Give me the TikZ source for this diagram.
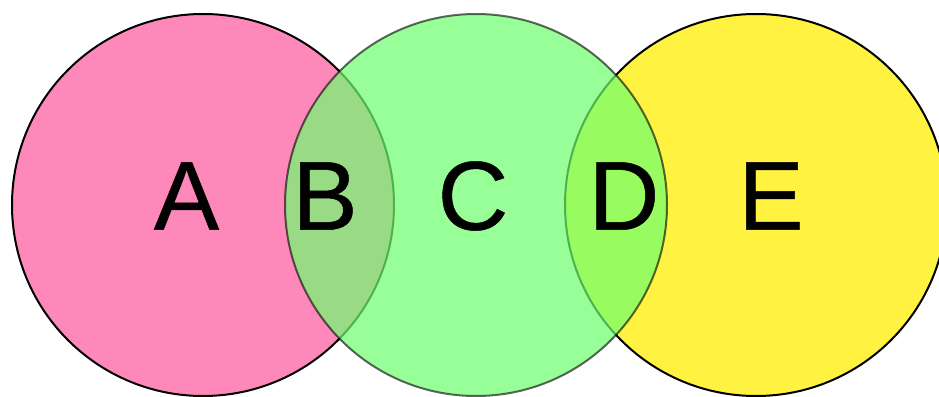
\documentclass[tikz,border=0pt]{standalone}
\usepackage{fontspec}
\setmainfont{Liberation Sans}
\newfontfamily\lblfont{Liberation Sans}[FakeBold=0.5]
\definecolor{pinkA}{RGB}{255,136,187}
\definecolor{greenC}{RGB}{109,255,109}
\definecolor{yellowE}{RGB}{255,242,64}
\begin{document}
\begin{tikzpicture}[x=1pt,y=-1pt,
  setcircle/.style={line width=2pt},
  lbl/.style={font=\lblfont\fontsize{98}{98}\selectfont, inner sep=0pt, text=black}]
\useasboundingbox (0,0) rectangle (939,396);
\fill[white] (0,0) rectangle (939,396);
\draw[setcircle, fill=pinkA, draw=black] (203,205) circle[radius=191];
\draw[setcircle, fill=yellowE, draw=black] (756,205) circle[radius=191];
\draw[setcircle, fill=greenC, fill opacity=0.7, draw=black, draw opacity=0.6] (476,205) circle[radius=191];
\node[lbl] (A) at (186.5,196) {A};
\node[lbl] (B) at (325,196) {B};
\node[lbl] (C) at (473,196) {C};
\node[lbl] (D) at (624,196) {D};
\node[lbl] (E) at (771,196) {E};
\end{tikzpicture}
\end{document}
